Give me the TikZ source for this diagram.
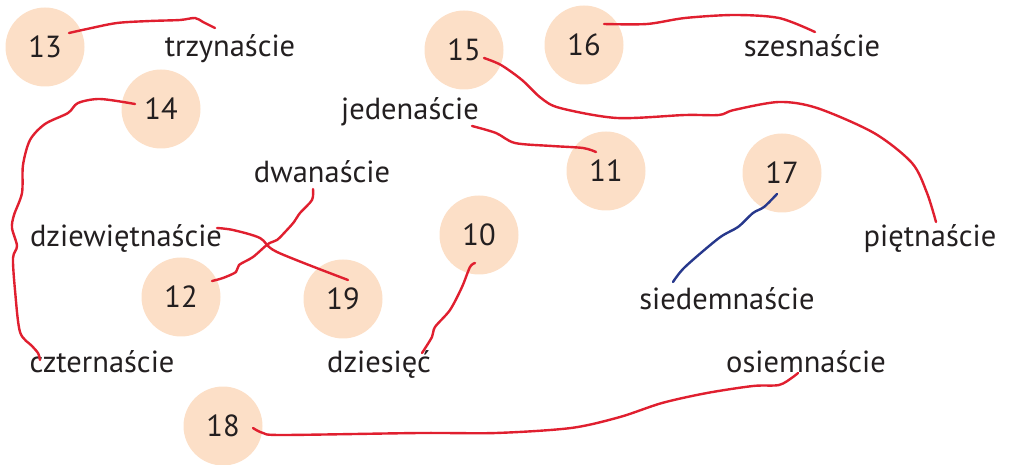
\documentclass[tikz,border=0pt]{standalone}
\usepackage{fontspec}
\setmainfont{PT Sans}
\usepackage{xcolor}
\usepackage{tikz}

\definecolor{peach}{HTML}{FCDFC7}
\definecolor{inkred}{HTML}{E01F2F}
\definecolor{inkblue}{HTML}{27388C}
\definecolor{txt}{HTML}{231F20}

\begin{document}
\begin{tikzpicture}[x=1pt, y=-1pt,
    num/.style={circle, fill=peach, minimum size=79pt, inner sep=0pt, text=txt, font=\fontsize{30.5}{32}\selectfont},
    word/.style={anchor=base, inner sep=0pt, text=txt, font=\fontsize{30.5}{32}\selectfont},
    pen/.style={draw=inkred, line width=2.4pt, line cap=round, line join=round},
    bluepen/.style={pen, draw=inkblue}]
    \useasboundingbox (0,0) rectangle (1013,465);

    % Numbers
    \node[num] (n13) at (45,47) {13};
    \node[num] (n14) at (161,109) {14};
    \node[num] (n15) at (464,50) {15};
    \node[num] (n16) at (584,45) {16};
    \node[num] (n11) at (606,171) {11};
    \node[num] (n17) at (782,173) {17};
    \node[num] (n10) at (479,235) {10};
    \node[num] (n12) at (181,297) {12};
    \node[num] (n19) at (343,299) {19};
    \node[num] (n18) at (223,426) {18};

    % Words
    \node[word] (w13) at (230,57) {trzynaście};
    \node[word] (w11) at (410,120) {jedenaście};
    \node[word] (w16) at (812,57) {szesnaście};
    \node[word] (w12) at (322,183) {dwanaście};
    \node[word] (w19) at (126,247) {dziewiętnaście};
    \node[word] (w15) at (930,247) {piętnaście};
    \node[word] (w17) at (727,310) {siedemnaście};
    \node[word] (w14) at (102,373) {czternaście};
    \node[word] (w10) at (379,373) {dziesięć};
    \node[word] (w18) at (806,373) {osiemnaście};

    % Connections
    \draw[pen] plot[smooth, tension=0.5] coordinates {([shift={(24,-14)}]n13.center) (87,29) (117,23) (150,21) (180,20) (195,18) (203,22) ([shift={(-15,-29)}]w13.base)};
    \draw[pen] plot[smooth, tension=0.5] coordinates {([shift={(-26,-5)}]n14.center) (100,99) (78,103) (68,113) (45,124) (30,140) (23,165) (22,193) (14,215) (12,228) (17,246) (13,258) (15,290) (20,332) (32,346) (38,353) ([shift={(-62,-13)}]w14.base)};
    \draw[pen] plot[smooth, tension=0.5] coordinates {([shift={(-9,6)}]w12.base) (312,200) (300,213) (294,222) (286,231) (277,240) (268,244) (253,257) (239,265) (236,272) (223,278) ([shift={(31,-16)}]n12.center)};
    \draw[pen] plot[smooth, tension=0.5] coordinates {([shift={(91,-19)}]w19.base) (233,230) (260,238) (277,252) ([shift={(5,-19)}]n19.center)};
    \draw[pen] plot[smooth, tension=0.5] coordinates {([shift={(-4,28)}]n10.center) (470,267) (462,287) (450,310) (435,327) (432,337) ([shift={(43,-20)}]w10.base)};
    \draw[pen] plot[smooth, tension=0.5] coordinates {([shift={(30,2)}]n18.center) (263,433) (283,435) (420,433) (496,433) (571,428) (620,417) (662,403) (707,393) (753,386) (779,385) (793,377) ([shift={(-8,0)}]w18.base)};
    \draw[pen] plot[smooth, tension=0.5] coordinates {([shift={(20,8)}]n15.center) (501,65) (522,80) (541,98) (560,108) (617,118) (685,115) (719,115) (734,110) (779,102) (817,108) (874,133) (912,163) (927,193) ([shift={(6,-25)}]w15.base)};
    \draw[pen] plot[smooth, tension=0.5] coordinates {([shift={(20,-21)}]n16.center) (647,24) (685,18) (734,15) (779,18) ([shift={(3,-25)}]w16.base)};
    \draw[pen] plot[smooth, tension=0.5] coordinates {([shift={(62,6)}]w11.base) (496,133) (515,143) (552,146) (583,148) ([shift={(-10,-19)}]n11.center)};
    \draw[bluepen] plot[smooth, tension=0.5] coordinates {([shift={(-5,21)}]n17.center) (764,207) (753,213) (738,227) (719,238) (685,267) ([shift={(-54,-28)}]w17.base)};
\end{tikzpicture}
\end{document}
